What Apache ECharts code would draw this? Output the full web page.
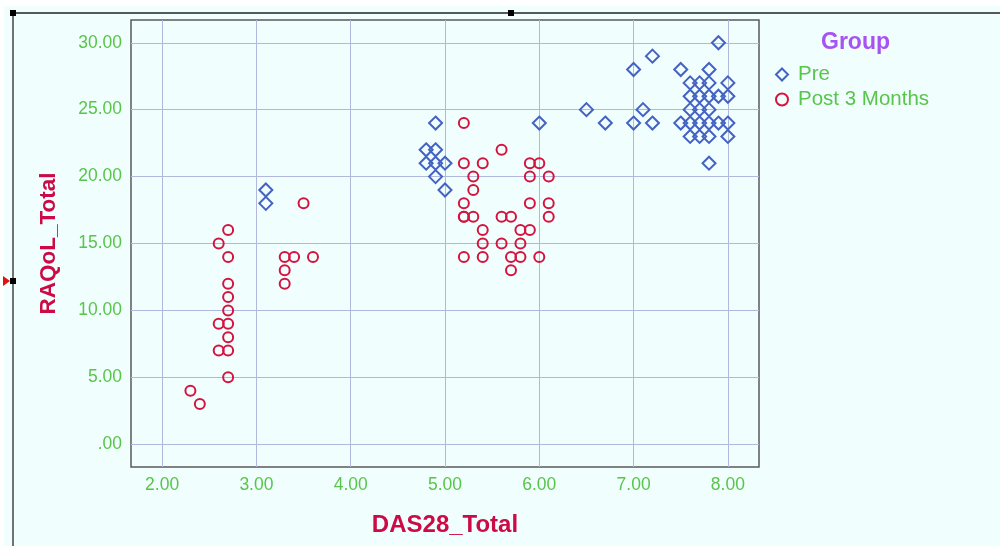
<!DOCTYPE html>
<html>
<head>
<meta charset="utf-8">
<script src="https://cdn.jsdelivr.net/npm/echarts@6/dist/echarts.min.js"></script>
<style>
html,body{margin:0;padding:0;background:#ffffff;}
#chart{width:1000px;height:546px;}
</style>
</head>
<body>
<div id="chart"></div>
<script>
// ---- data ----
const xTicks = [2, 3, 4, 5, 6, 7, 8];
const yTicks = [0, 5, 10, 15, 20, 25, 30];
const seriesNames = ['Pre', 'Post 3 Months'];
// Pre: DAS28_Total, RAQoL_Total
const preX = [3.1, 3.1, 4.8, 4.8, 4.9, 4.9, 4.9, 4.9, 5.0, 5.0, 6.0, 6.5, 6.7, 7.0, 7.0, 7.1, 7.2, 7.2, 7.5, 7.5,
  7.6, 7.6, 7.6, 7.6, 7.6, 7.7, 7.7, 7.7, 7.7, 7.7, 7.8, 7.8, 7.8, 7.8, 7.8, 7.8, 7.8, 7.9, 7.9, 7.9, 8.0, 8.0, 8.0, 8.0];
const preY = [19, 18, 22, 21, 24, 22, 21, 20, 21, 19, 24, 25, 24, 28, 24, 25, 29, 24, 28, 24,
  27, 26, 25, 24, 23, 27, 26, 25, 24, 23, 28, 27, 26, 25, 24, 23, 21, 30, 26, 24, 27, 26, 24, 23];
// Post 3 Months
const postX = [2.3, 2.4, 2.6, 2.6, 2.6, 2.7, 2.7, 2.7, 2.7, 2.7, 2.7, 2.7, 2.7, 2.7, 3.3, 3.3, 3.3, 3.4, 3.5, 3.6,
  5.2, 5.2, 5.2, 5.2, 5.2, 5.2, 5.3, 5.3, 5.3, 5.4, 5.4, 5.4, 5.4, 5.6, 5.6, 5.6, 5.7, 5.7, 5.7, 5.8, 5.8, 5.8,
  5.9, 5.9, 5.9, 5.9, 6.0, 6.0, 6.1, 6.1, 6.1];
const postY = [4, 3, 15, 9, 7, 16, 14, 12, 11, 10, 9, 8, 7, 5, 14, 13, 12, 14, 18, 14,
  24, 21, 18, 17, 14, 17, 20, 19, 17, 21, 16, 15, 14, 22, 17, 15, 17, 14, 13, 16, 15, 14,
  21, 20, 18, 16, 21, 14, 20, 18, 17];

const pairs = (xs, ys) => xs.map((x, i) => [x, ys[i]]);

const green = '#58c54a';
const crimson = '#cc0a45';
const gridColor = '#b0b9dc';
const font = 'Liberation Sans, Arial';

const chart = echarts.init(document.getElementById('chart'), null, {renderer: 'canvas'});
chart.setOption({
  backgroundColor: '#f1fefe',
  animation: false,
  title: {
    text: 'Group', left: 816, top: 26,
    textStyle: {color: '#a752f2', fontSize: 23, fontWeight: 'bold', fontFamily: font}
  },
  legend: {
    orient: 'vertical', left: 770, top: 59, itemGap: 4,
    itemWidth: 12, itemHeight: 12,
    data: [{name: 'Pre', icon: 'diamond'}, {name: 'Post 3 Months', icon: 'circle'}],
    textStyle: {color: green, fontSize: 20.5, fontFamily: font, padding: [0, 0, 0, 5]}
  },
  grid: {left: 131, top: 20, right: 241, bottom: 79, show: true, borderColor: '#5a5a5a', borderWidth: 1.5, backgroundColor: 'transparent'},
  xAxis: {
    type: 'value', min: 1.67, max: 8.33,
    name: 'DAS28_Total', nameLocation: 'middle', nameGap: 46,
    nameTextStyle: {color: crimson, fontSize: 24, fontWeight: 'bold', fontFamily: font},
    axisLine: {show: false},
    axisTick: {show: false, customValues: xTicks},
    axisLabel: {customValues: xTicks, color: green, fontSize: 17.5, margin: 9, fontFamily: font,
      formatter: v => v === 0 ? '.00' : v.toFixed(2)},
    splitLine: {show: true, lineStyle: {color: gridColor, width: 1}}
  },
  yAxis: {
    type: 'value', min: -1.7, max: 31.7,
    name: 'RAQoL_Total', nameLocation: 'middle', nameGap: 71,
    nameTextStyle: {color: crimson, fontSize: 22.5, fontWeight: 'bold', fontFamily: font},
    axisLine: {show: false},
    axisTick: {show: false, customValues: yTicks},
    axisLabel: {customValues: yTicks, color: green, fontSize: 17.5, margin: 9, fontFamily: font,
      formatter: v => v === 0 ? '.00' : v.toFixed(2)},
    splitLine: {show: true, lineStyle: {color: gridColor, width: 1}}
  },
  series: [
    {
      name: seriesNames[0], type: 'scatter', symbol: 'diamond', symbolSize: 13,
      data: pairs(preX, preY),
      itemStyle: {color: 'rgba(0,0,0,0)', borderColor: '#4462c4', borderWidth: 2, opacity: 1}
    },
    {
      name: seriesNames[1], type: 'scatter', symbol: 'circle', symbolSize: 10,
      data: pairs(postX, postY),
      itemStyle: {color: 'rgba(0,0,0,0)', borderColor: '#d5133f', borderWidth: 2, opacity: 1}
    }
  ],
  graphic: [
    {type: 'rect', shape: {x: 0, y: 0, width: 1000, height: 6}, style: {fill: '#ffffff'}, silent: true},
    {type: 'rect', shape: {x: 0, y: 0, width: 4, height: 546}, style: {fill: '#ffffff'}, silent: true},
    {type: 'line', shape: {x1: 13, y1: 13, x2: 1000, y2: 13}, style: {stroke: '#222', lineWidth: 1.5}, silent: true},
    {type: 'line', shape: {x1: 13, y1: 13, x2: 13, y2: 546}, style: {stroke: '#444', lineWidth: 1.5}, silent: true},
    {type: 'rect', shape: {x: 10, y: 10, width: 6, height: 6}, style: {fill: '#000'}, silent: true},
    {type: 'rect', shape: {x: 508, y: 10, width: 6, height: 6}, style: {fill: '#000'}, silent: true},
    {type: 'rect', shape: {x: 10, y: 278, width: 6, height: 6}, style: {fill: '#000'}, silent: true},
    {type: 'polygon', shape: {points: [[3, 276], [10, 281], [3, 286]]}, style: {fill: '#e21010'}, silent: true}
  ]
});
</script>
</body>
</html>
